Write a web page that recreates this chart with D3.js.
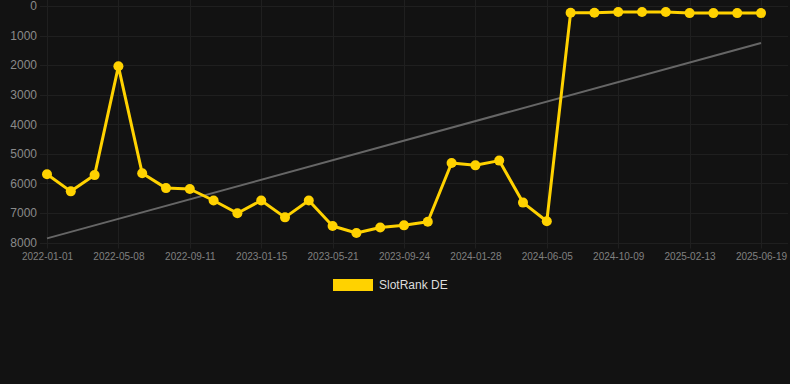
<html>
  <head>
    <script src="https://d3js.org/d3.v7.min.js"></script>
  </head>
  <body style="margin:0;background:#121212;">
    <div id="chart"></div>
    <script>
      // data
      const dates = ["2022-01-01","2022-02-12","2022-03-26","2022-05-08","2022-06-19","2022-07-31",
        "2022-09-11","2022-10-23","2022-12-04","2023-01-15","2023-02-26","2023-04-09",
        "2023-05-21","2023-07-02","2023-08-13","2023-09-24","2023-11-05","2023-12-17",
        "2024-01-28","2024-03-10","2024-04-21","2024-06-05","2024-07-17","2024-08-28",
        "2024-10-09","2024-11-20","2025-01-01","2025-02-13","2025-03-27","2025-05-08","2025-06-19"];
      const rankDE = [5690, 6270, 5720, 2040, 5660, 6160, 6190, 6580, 7010, 6580, 7150, 6580,
        7440, 7680, 7490, 7420, 7300, 5310, 5390, 5230, 6650, 7280, 230, 230, 200, 200, 200,
        240, 240, 240, 240];
      const trendEnds = [7860, 1250];
      const yTicks = [0, 1000, 2000, 3000, 4000, 5000, 6000, 7000, 8000];
      const seriesName = "SlotRank DE";

      const width = 790, height = 384;
      const margin = {top: 6, right: 29, bottom: 141, left: 47};
      const gold = "#ffd200";

      const svg = d3.create("svg")
        .attr("width", width)
        .attr("height", height)
        .style("font-family", "Liberation Sans, Arial, sans-serif");

      svg.append("rect").attr("width", width).attr("height", height).attr("fill", "#121212");

      const x = d3.scalePoint()
        .domain(dates)
        .range([margin.left, width - margin.right]);

      const y = d3.scaleLinear()
        .domain([0, 8000])
        .range([margin.top, height - margin.bottom - 0.5]);

      const tickDates = dates.filter((d, i) => i % 3 === 0);

      // grid
      svg.append("g")
        .selectAll("line")
        .data(yTicks)
        .join("line")
        .attr("x1", 40).attr("x2", 788)
        .attr("y1", d => Math.round(y(d)) + 0.5).attr("y2", d => Math.round(y(d)) + 0.5)
        .attr("stroke", "#1f1f1f");

      svg.append("g")
        .selectAll("line")
        .data(tickDates)
        .join("line")
        .attr("x1", d => Math.round(x(d)) + 0.5).attr("x2", d => Math.round(x(d)) + 0.5)
        .attr("y1", 0).attr("y2", y(8000) + 6)
        .attr("stroke", "#1f1f1f");

      // y axis labels
      svg.append("g")
        .attr("transform", `translate(37,0)`)
        .call(d3.axisLeft(y).tickValues(yTicks).tickFormat(d => String(d)).tickSize(0).tickPadding(0))
        .call(g => g.select(".domain").remove())
        .call(g => g.selectAll("text").attr("fill", "#8a8a8a").style("font-size", "12px")
          .style("font-family", "Liberation Sans, Arial, sans-serif"));

      // x axis labels
      svg.append("g")
        .attr("transform", `translate(0, ${y(8000) + 10})`)
        .call(d3.axisBottom(x).tickValues(tickDates).tickSize(0).tickPadding(0))
        .call(g => g.select(".domain").remove())
        .call(g => g.selectAll("text").attr("fill", "#808080").style("font-size", "10px")
          .style("font-family", "Liberation Sans, Arial, sans-serif"));

      // trend line
      svg.append("line")
        .attr("x1", x(dates[0])).attr("y1", y(trendEnds[0]))
        .attr("x2", x(dates[dates.length - 1])).attr("y2", y(trendEnds[1]))
        .attr("stroke", "#666")
        .attr("stroke-width", 2);

      const series = dates.map((d, i) => ({date: d, value: rankDE[i]}));

      svg.append("path")
        .datum(series)
        .attr("fill", "none")
        .attr("stroke", gold)
        .attr("stroke-width", 3)
        .attr("stroke-linejoin", "round")
        .attr("d", d3.line().x(d => x(d.date)).y(d => y(d.value)));

      svg.append("g")
        .selectAll("circle")
        .data(series)
        .join("circle")
        .attr("cx", d => x(d.date))
        .attr("cy", d => y(d.value))
        .attr("r", 5)
        .attr("fill", gold);

      // legend
      const legend = svg.append("g").attr("transform", "translate(333,279)");
      legend.append("rect").attr("width", 40).attr("height", 12).attr("fill", gold);
      legend.append("text")
        .attr("x", 46).attr("y", 10)
        .attr("fill", "#dddddd")
        .style("font-size", "12px")
        .text(seriesName);

      document.getElementById("chart").appendChild(svg.node());
    </script>
  </body>
</html>
